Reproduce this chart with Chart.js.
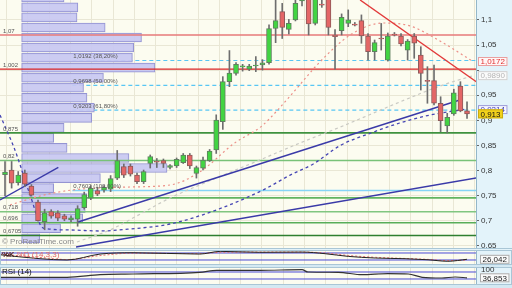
<!DOCTYPE html>
<html>
<head>
<meta charset="utf-8">
<script src="https://cdn.jsdelivr.net/npm/chart.js@4.4.0/dist/chart.umd.min.js"></script>
<style>
    html, body { margin: 0; padding: 0; width: 512px; height: 288px; overflow: hidden; background: #d4e9f3; }
    canvas { position: absolute; left: 0; }
    #main { top: 0; }
    #stoch { top: 250px; }
    #rsi { top: 267px; }
</style>
</head>
<body>
<canvas id="main" width="512" height="250"></canvas>
<canvas id="stoch" width="512" height="15"></canvas>
<canvas id="rsi" width="512" height="18"></canvas>
<script>
// Candles (one per session, index 0..70)
const opens = [0.792, 0.801, 0.776, 0.795, 0.769, 0.737, 0.698, 0.718, 0.716, 0.710,
    0.7015, 0.703, 0.726, 0.745, 0.760, 0.761, 0.763, 0.785, 0.808, 0.809,
    0.791, 0.778, 0.8144, 0.8185, 0.8196, 0.806, 0.809, 0.8156, 0.831, 0.7945,
    0.8045, 0.8196, 0.841, 0.8973, 0.977, 0.9937, 1.0065, 1.0017, 1.0082, 1.0106,
    1.0148, 1.0833, 1.1164, 1.0813, 1.100, 1.138, 1.150, 1.093, 1.1315, 1.150,
    1.070, 1.0786, 1.093, 1.0915, 1.0985, 1.068, 1.0367, 1.0640, 1.020, 1.0718,
    1.068, 1.040, 1.068, 1.030, 0.9795, 0.979, 0.934, 0.8887, 0.9126, 0.9684,
    0.919];
const highs = [0.818, 0.818, 0.798, 0.801, 0.772, 0.741, 0.723, 0.722, 0.720, 0.713,
    0.710, 0.730, 0.757, 0.770, 0.766, 0.770, 0.790, 0.840, 0.813, 0.813,
    0.795, 0.801, 0.831, 0.824, 0.823, 0.812, 0.825, 0.834, 0.834, 0.809,
    0.827, 0.842, 0.911, 0.987, 1.039, 1.015, 1.0116, 1.0116, 1.027, 1.021,
    1.090, 1.160, 1.133, 1.101, 1.150, 1.160, 1.160, 1.160, 1.145, 1.160,
    1.081, 1.112, 1.120, 1.095, 1.110, 1.073, 1.060, 1.093, 1.074, 1.075,
    1.073, 1.061, 1.073, 1.0467, 1.0069, 1.010, 0.947, 0.914, 0.962, 0.977,
    0.937];
const lows = [0.750, 0.765, 0.771, 0.768, 0.749, 0.699, 0.682, 0.705, 0.700, 0.700,
    0.698, 0.689, 0.723, 0.742, 0.750, 0.757, 0.758, 0.782, 0.786, 0.789,
    0.774, 0.774, 0.805, 0.806, 0.806, 0.803, 0.806, 0.814, 0.804, 0.785,
    0.801, 0.818, 0.834, 0.882, 0.967, 0.990, 0.998, 0.999, 0.997, 1.000,
    1.012, 1.0547, 1.063, 1.072, 1.098, 1.128, 1.070, 1.090, 1.125, 1.070,
    1.0017, 1.070, 1.0866, 1.088, 1.0535, 1.020, 1.020, 1.040, 1.018, 1.068,
    1.048, 1.020, 1.0236, 0.9604, 0.934, 0.9306, 0.8774, 0.875, 0.910, 0.917,
    0.904];
const closes = [0.797, 0.775, 0.791, 0.773, 0.751, 0.700, 0.716, 0.709, 0.705, 0.703,
    0.706, 0.724, 0.752, 0.7645, 0.753, 0.7667, 0.784, 0.820, 0.791, 0.793,
    0.778, 0.798, 0.828, 0.8165, 0.8144, 0.810, 0.8224, 0.831, 0.809, 0.8057,
    0.821, 0.839, 0.9007, 0.977, 0.994, 1.0116, 1.0085, 1.0082, 1.0102, 1.0144,
    1.083, 1.0985, 1.0853, 1.093, 1.133, 1.150, 1.092, 1.150, 1.1295, 1.085,
    1.0667, 1.105, 1.100, 1.0895, 1.068, 1.0367, 1.0547, 1.0620, 1.068, 1.0698,
    1.052, 1.058, 1.0535, 0.9937, 0.9775, 0.934, 0.8993, 0.906, 0.955, 0.919,
    0.913];

// Volume profile (price band centre -> volume)
const vpPrices = [1.145, 1.125, 1.105, 1.085, 1.065, 1.045, 1.025, 1.005, 0.985, 0.965,
    0.945, 0.925, 0.905, 0.885, 0.865, 0.845, 0.825, 0.805, 0.785, 0.765,
    0.745, 0.725, 0.705, 0.685, 0.665];
const vpVolumes = [9.8, 13.0, 12.8, 19.3, 27.7, 25.9, 25.6, 30.8, 18.9, 14.3,
    15.1, 16.8, 16.2, 9.8, 7.4, 10.5, 24.8, 33.6, 18.2, 7.4,
    15.1, 14.7, 14.1, 9.0, 4.2];

// Horizontal levels
const redLevels = [1.07, 1.002];
const fibLevels = [1.0192, 0.9698, 0.9203];
const fibNames = ['1,0192 (38,20%)', '0,9698 (50,00%)', '0,9203 (61,80%)'];
const fibBase = 0.7602;
const fibBaseName = '0,7602 (100,00%)';
const fibStart = 10.2;
const greenLevels = [0.875, 0.82, 0.7455, 0.718, 0.696, 0.6705];
const greenColors = ['#3f923f', '#78c278', '#62b462', '#80c680', '#59ad59', '#2f7f2f'];
const leftLabels = [[1.07, '1,07'], [1.002, '1,002'], [0.875, '0,875'], [0.82, '0,82'],
    [0.718, '0,718'], [0.696, '0,696'], [0.6705, '0,6705']];

// Trend lines [index, price]
const trendBlueA = [[-0.76, 0.7413], [8.08, 0.8065]];
const trendBlueB = [[11.06, 0.6975], [68.9, 0.9405]];
const trendBlueC = [[10.76, 0.6477], [71.4, 0.7853]];
const trendRed = [[53.8, 1.1397], [71.4, 0.977]];

// Moving averages (read at sample points)
const maBlueIdx = [-0.76, 1.5, 3.8, 5.8, 9.85, 14.4, 18.9, 25.0, 32.0, 39.1, 43.2, 46.7, 50.8, 55.3, 59.8, 64.4, 70.0];
const maBlue = [0.9106, 0.841, 0.7513, 0.6855, 0.6816, 0.6796, 0.6835, 0.6935, 0.7214, 0.7612, 0.791, 0.813, 0.850, 0.874, 0.8947, 0.9106, 0.9226];
const maRedIdx = [0.76, 5.3, 10.15, 18.9, 25.0, 29.5, 34.8, 38.9, 43.2, 47.7, 52.3, 57.3, 61.4, 65.9, 70.9];
const maRed = [0.7314, 0.7493, 0.7612, 0.7672, 0.7712, 0.7971, 0.8549, 0.8887, 0.9485, 1.0162, 1.070, 1.0939, 1.0879, 1.058, 1.0172];
const maGreyIdx = [10.9, 15.9, 20.5, 25.0, 29.5, 38.6, 44.7, 50.8, 59.8, 65.9, 70.9];
const maGrey = [0.6577, 0.6816, 0.7134, 0.7453, 0.7712, 0.821, 0.8549, 0.8867, 0.9365, 0.9684, 0.989];

// Last values shown on the price axis
const boxValues = [1.0172, 0.989, 0.9214, 0.913];
const boxTexts = ['1,0172', '0,9890', '0,9214', '0,913'];

// Stochastic panel
const stochIdx = [-0.76, 5.3, 9.4, 14.4, 19.4, 29.5, 32.6, 38.6, 45, 48.5, 52, 56.1, 60.6, 64.1, 67.1, 70];
const stochK = [65, 31, 20, 71, 82, 71, 94, 86, 88, 74, 51, 37, 31, 22, 9, 26.042];
const stochD = [70, 42, 24, 58, 79, 75, 86, 88, 88, 80, 59, 43, 33, 25, 15, 20];
const stochLevels = [80, 20];

// RSI panel
const rsiIdx = [-0.76, 9.4, 14.4, 19.4, 29.5, 32.1, 38.6, 45, 45.9, 50.5, 54.1, 58, 61.1, 63.2, 66.2, 68.2, 70];
const rsiVals = [39.7, 39.7, 54.6, 58.6, 68.3, 79.7, 79.7, 83, 70, 68.3, 54.6, 60.3, 58.6, 39.7, 35.7, 41.4, 36.853];
const rsiLevels = [70, 30];

const xMin = -0.76, xMax = 71.36;
const yMin = 0.6457, yMax = 1.1397;
const gridStep = 3.223, gridAnchor = 55.05;

const plotBg = '#fcfcf0';
const axisBg = '#e3f3fa';
const gridColor = '#e9e7d5';
const frameColor = '#a9c6d6';

Chart.defaults.font.family = '"Liberation Sans", Arial, sans-serif';
Chart.defaults.animation = false;
Chart.defaults.plugins.legend.display = false;
Chart.defaults.plugins.tooltip.enabled = false;

function pts(idx, vals) {
    return idx.map((x, i) => ({ x: x, y: vals[i] }));
}

function hline(level, from, color, width, dash, order) {
    return {
        type: 'line', data: [{ x: from, y: level }, { x: xMax + 1, y: level }],
        borderColor: color, borderWidth: width, borderDash: dash || [],
        pointRadius: 0, order: order
    };
}

function lineSet(data, color, width, dash, order, tension) {
    return {
        type: 'line', data: data, borderColor: color, borderWidth: width,
        borderDash: dash || [], pointRadius: 0, order: order,
        tension: tension || 0, cubicInterpolationMode: tension ? 'monotone' : 'default'
    };
}

function gridTicks() {
    const t = [];
    let v = gridAnchor - gridStep * Math.ceil((gridAnchor - xMin) / gridStep);
    for (; v <= xMax; v += gridStep) {
        if (v >= xMin) t.push({ value: v });
    }
    return t;
}

function fmt(v, d) {
    return v.toFixed(d).replace('.', ',');
}

function xScaleOpts() {
    return {
        type: 'linear', min: xMin, max: xMax, offset: false,
        grid: { color: gridColor, drawTicks: false, offset: false },
        border: { display: false },
        ticks: { display: false },
        afterBuildTicks: s => { s.ticks = gridTicks(); },
        afterFit: s => { s.height = 0; s.paddingLeft = 0; s.paddingRight = 0; }
    };
}

function drawBox(ctx, x, yc, text, fg, bg, border) {
    ctx.font = '8px "Liberation Sans", Arial, sans-serif';
    const w = ctx.measureText(text).width + 5;
    ctx.fillStyle = bg;
    ctx.fillRect(x, yc - 4.5, w, 9);
    ctx.strokeStyle = border;
    ctx.lineWidth = 1;
    ctx.strokeRect(x + 0.5, yc - 4, w - 1, 8);
    ctx.fillStyle = fg;
    ctx.textBaseline = 'middle';
    ctx.textAlign = 'left';
    ctx.fillText(text, x + 2.5, yc + 0.5);
}

// Main price chart
const candleIdx = opens.map((_, i) => i);
const isUp = i => closes[i] >= opens[i];

const datasets = [];

fibLevels.forEach(l => datasets.push(hline(l, fibStart, '#58c6f4', 1.2, [4, 3], 100)));
datasets.push(hline(fibBase, fibStart, '#86d4f6', 1.5, [], 100));

datasets.push({
    type: 'bar', indexAxis: 'y', xAxisID: 'vx', yAxisID: 'y',
    data: vpPrices.map((p, i) => ({ x: vpVolumes[i], y: p })),
    barThickness: 9, grouped: false,
    backgroundColor: 'rgba(200,200,242,0.92)', borderColor: '#9494d2',
    borderWidth: 1, borderSkipped: false, order: 90
});

greenLevels.forEach((l, i) => datasets.push(hline(l, xMin - 1, greenColors[i], 1.6, [], 80)));
datasets.push(hline(redLevels[0], xMin - 1, '#e77a7a', 1.3, [], 80));
datasets.push(hline(redLevels[1], xMin - 1, '#d92424', 1.3, [], 80));

datasets.push(lineSet(pts(maGreyIdx, maGrey), '#c9c9c3', 1.2, [3, 3], 60, 0.4));
datasets.push(lineSet(pts(maRedIdx, maRed), '#ec8e86', 1.2, [2, 3], 60, 0.4));
datasets.push(lineSet(pts(maBlueIdx, maBlue), '#4646b4', 1.3, [3, 3], 60, 0.4));

[trendBlueA, trendBlueB, trendBlueC].forEach(t =>
    datasets.push(lineSet(t.map(p => ({ x: p[0], y: p[1] })), '#3a3aa8', 1.4, [], 50)));
datasets.push(lineSet(trendRed.map(p => ({ x: p[0], y: p[1] })), '#e23a3a', 1.4, [], 50));

datasets.push({
    type: 'bar', xAxisID: 'x', yAxisID: 'y',
    data: candleIdx.map(i => ({ x: i, y: [lows[i], highs[i]] })),
    barThickness: 1, grouped: false, backgroundColor: '#6e6e6e',
    borderWidth: 0, order: 20
});
datasets.push({
    type: 'bar', xAxisID: 'x', yAxisID: 'y',
    data: candleIdx.map(i => ({ x: i, y: [opens[i], closes[i]] })),
    barThickness: 5, grouped: false,
    backgroundColor: candleIdx.map(i => isUp(i) ? '#42d442' : '#e46666'),
    borderColor: candleIdx.map(i => isUp(i) ? '#5f7f5f' : '#8f5a5a'),
    borderWidth: 1, borderSkipped: false, order: 10
});

const mainDecor = {
    id: 'mainDecor',
    beforeDraw(chart) {
        const { ctx, chartArea: a, width, height } = chart;
        ctx.save();
        ctx.fillStyle = axisBg;
        ctx.fillRect(0, 0, width, height);
        ctx.fillStyle = plotBg;
        ctx.fillRect(a.left, a.top, a.right - a.left, a.bottom - a.top);
        ctx.restore();
    },
    afterDatasetsDraw(chart) {
        const { ctx, chartArea: a, scales: { x, y } } = chart;
        ctx.save();
        ctx.beginPath();
        ctx.rect(a.left, a.top, a.right - a.left, a.bottom - a.top);
        ctx.clip();
        ctx.font = '6px "Liberation Sans", Arial, sans-serif';
        ctx.fillStyle = '#555';
        ctx.textAlign = 'left';
        ctx.textBaseline = 'bottom';
        leftLabels.forEach(l => ctx.fillText(l[1], a.left + 3, y.getPixelForValue(l[0]) - 1));
        const fx = x.getPixelForValue(fibStart) + 1;
        fibLevels.forEach((l, i) => ctx.fillText(fibNames[i], fx, y.getPixelForValue(l) - 1));
        ctx.fillText(fibBaseName, fx, y.getPixelForValue(fibBase) - 1);
        ctx.font = '8px "Liberation Sans", Arial, sans-serif';
        ctx.fillStyle = '#8a8a8a';
        ctx.textBaseline = 'middle';
        ctx.fillText('\u00a9 ProRealTime.com', a.left + 2, a.bottom - 6);
        ctx.restore();
    },
    afterDraw(chart) {
        const { ctx, chartArea: a, scales: { y } } = chart;
        ctx.save();
        ctx.strokeStyle = frameColor;
        ctx.lineWidth = 1;
        ctx.beginPath();
        ctx.moveTo(0, a.bottom + 0.5);
        ctx.lineTo(chart.width, a.bottom + 0.5);
        ctx.stroke();
        const styles = [
            ['#e23030', '#fff6f6', '#e9a0a0'],
            ['#b4b4b4', '#fbfbfb', '#cfcfcf'],
            ['#3c3cb4', '#f6f6ff', '#9c9cd8'],
            ['#111', '#f2d21c', '#c9ab10']
        ];
        boxValues.forEach((v, i) => {
            const s = styles[i];
            drawBox(ctx, a.right + 2, y.getPixelForValue(v), boxTexts[i], s[0], s[1], s[2]);
        });
        ctx.restore();
    }
};

new Chart(document.getElementById('main'), {
    type: 'bar',
    data: { datasets: datasets },
    options: {
        responsive: false,
        devicePixelRatio: 1,
        layout: { padding: { top: 0, bottom: 2, left: 0, right: 0 } },
        scales: {
            x: xScaleOpts(),
            vx: { type: 'linear', axis: 'x', position: 'bottom', display: false, min: 0, max: 100 },
            y: {
                type: 'linear', position: 'right', min: yMin, max: yMax, offset: false,
                grid: { color: gridColor, tickColor: '#666', tickLength: 3, offset: false },
                border: { color: '#93b7c9' },
                ticks: {
                    stepSize: 0.05, includeBounds: false, padding: 2, color: '#333',
                    font: { size: 8 }, autoSkip: false,
                    callback: v => Math.abs(v - 1) < 1e-6 ? '' : fmt(v, 2).replace(/0$/, '')
                },
                afterFit: s => { s.width = 36; s.paddingTop = 0; s.paddingBottom = 0; }
            }
        }
    },
    plugins: [mainDecor]
});

// Indicator panels
function makePanel(id, cfg) {
    const decor = {
        id: 'panelDecor',
        beforeDraw(chart) {
            const { ctx, chartArea: a, width, height } = chart;
            ctx.save();
            ctx.fillStyle = axisBg;
            ctx.fillRect(0, 0, width, height);
            ctx.fillStyle = plotBg;
            ctx.fillRect(a.left, a.top, a.right - a.left, a.bottom - a.top);
            ctx.restore();
        },
        afterDraw(chart) {
            const { ctx, chartArea: a, scales: { y } } = chart;
            ctx.save();
            ctx.strokeStyle = frameColor;
            ctx.lineWidth = 1;
            ctx.strokeRect(0.5, 0.5, chart.width - 1, chart.height - 1);
            ctx.font = '8px "Liberation Sans", Arial, sans-serif';
            ctx.textBaseline = 'middle';
            ctx.textAlign = 'left';
            cfg.labels.forEach(l => {
                ctx.fillStyle = l.color;
                ctx.fillText(l.text, a.left + l.dx, a.top + 4.5);
            });
            if (cfg.topText) {
                ctx.fillStyle = '#333';
                ctx.fillText(cfg.topText, a.right + 5, 3);
            }
            const yc = Math.max(4.5, Math.min(chart.height - 4.5, y.getPixelForValue(cfg.boxValue)));
            drawBox(ctx, a.right + 4, yc, fmt(cfg.boxValue, 3), '#222', '#fafafa', '#aaa');
            ctx.restore();
        }
    };
    const sets = cfg.levels.map(l => ({
        type: 'line', data: [{ x: xMin - 1, y: l }, { x: xMax + 1, y: l }],
        borderColor: '#4b4bd6', borderWidth: 1, pointRadius: 0, order: 50
    })).concat(cfg.series);
    new Chart(document.getElementById(id), {
        type: 'line',
        data: { datasets: sets },
        options: {
            responsive: false,
            devicePixelRatio: 1,
            layout: { padding: 0 },
            scales: {
                x: xScaleOpts(),
                y: {
                    type: 'linear', position: 'right', min: cfg.min, max: cfg.max,
                    grid: { display: false }, border: { color: '#93b7c9' },
                    ticks: { display: false },
                    afterFit: s => { s.width = 36; s.paddingTop = 0; s.paddingBottom = 0; }
                }
            }
        },
        plugins: [decor]
    });
}

makePanel('stoch', {
    min: -22.86, max: 105.7, levels: stochLevels, boxValue: 26.042,
    labels: [{ text: '%K %D (14,3,3)', color: '#e26a6a', dx: 2 }, { text: '%K', color: '#111', dx: 2 }],
    series: [
        lineSet(pts(stochIdx, stochD), '#ea6d6d', 1, [2, 2], 20, 0.3),
        lineSet(pts(stochIdx, stochK), '#222', 1, [], 10, 0.3)
    ]
});

makePanel('rsi', {
    min: -4.29, max: 98.57, levels: rsiLevels, boxValue: 36.853, topText: '100',
    labels: [{ text: 'RSI (14)', color: '#111', dx: 2 }],
    series: [lineSet(pts(rsiIdx, rsiVals), '#333', 1.2, [], 10, 0.3)]
});
</script>
</body>
</html>
